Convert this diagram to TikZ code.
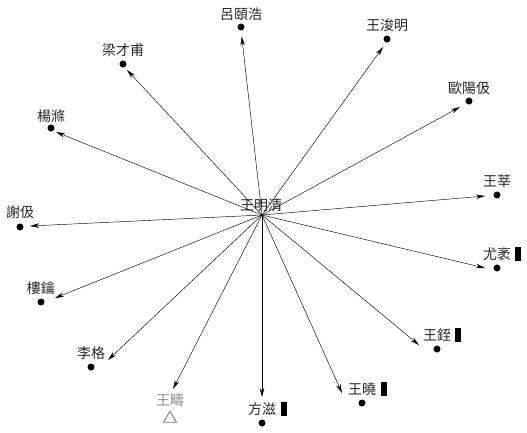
\documentclass[tikz,border=0pt]{standalone}
\usepackage{fontspec}
\newfontfamily\cjk{Noto Sans CJK TC}
\usetikzlibrary{arrows.meta,shapes.geometric}
\begin{document}
\begin{tikzpicture}[x=1pt,y=-1pt,
  dot/.style={circle,fill=black,inner sep=0pt,minimum size=7pt},
  lbl/.style={font=\cjk\fontsize{14}{14}\selectfont,inner sep=0pt,text=black!85},
  glbl/.style={lbl,text=black!45},
  blk/.style={fill=black,inner sep=0pt,minimum width=5.5pt,minimum height=14.5pt,anchor=west},
  arr/.style={-{Stealth[length=9pt,width=4.5pt]},line width=0.45pt}]
\useasboundingbox (0,0) rectangle (527,432);
\coordinate (c) at (262,215);
\node[lbl] (lc) at (261,205) {王明清};
% targets
\node[dot] (a1) at (241,27) {};  \node[lbl] (l1) at (241,14) {呂頤浩};
\node[dot] (a2) at (387,39) {};  \node[lbl] (l2) at (387,25) {王浚明};
\node[dot] (a3) at (123,64) {};  \node[lbl] (l3) at (123,50) {梁才甫};
\node[dot] (a4) at (469,101) {}; \node[lbl] (l4) at (469,88) {歐陽伋};
\node[dot] (a5) at (51,128) {};  \node[lbl] (l5) at (51,116) {楊滌};
\node[dot] (a6) at (497,195) {}; \node[lbl] (l6) at (497,181) {王莘};
\node[dot] (a7) at (20,227) {};  \node[lbl] (l7) at (20,212) {謝伋};
\node[dot] (a8) at (497,268) {}; \node[lbl] (l8) at (497,254) {尤袤};
\node[dot] (a9) at (41,302) {};  \node[lbl] (l9) at (41,288) {樓鑰};
\node[dot] (a10) at (437,349) {}; \node[lbl] (l10) at (437,335) {王銍};
\node[dot] (a11) at (91,367) {}; \node[lbl] (l11) at (91,353) {李格};
\node[draw=black!55,line width=0.8pt,regular polygon,regular polygon sides=3,inner sep=0pt,minimum size=15pt] (a12) at (170,418.5) {};
\node[glbl] (l12) at (170,400) {王疇};
\node[dot] (a13) at (262,423) {}; \node[lbl] (l13) at (262,409) {方滋};
\node[dot] (a14) at (362,403) {}; \node[lbl] (l14) at (362,389) {王曉};
% black bars
\node[blk] (b8) at ([xshift=4pt]l8.east) {};
\node[blk] (b10) at ([xshift=4pt]l10.east) {};
\node[blk] (b13) at ([xshift=5pt]l13.east) {};
\node[blk] (b14) at ([xshift=5pt]l14.east) {};
% arrow tips
\coordinate (t1) at (241.7,36.5);
\coordinate (t2) at (383,47);
\coordinate (t3) at (127,70);
\coordinate (t4) at (460,107);
\coordinate (t5) at (56,132);
\coordinate (t6) at (485,196);
\coordinate (t7) at (30,226);
\coordinate (t8) at (485,268);
\coordinate (t9) at (55,298);
\coordinate (t10) at (419,345);
\coordinate (t11) at (108,360);
\coordinate (t12) at (173,389);
\coordinate (t13) at (262,397);
\coordinate (t14) at (342,393);
\foreach \i in {1,...,14} \draw[arr] (c) -- (t\i);
\end{tikzpicture}
\end{document}
